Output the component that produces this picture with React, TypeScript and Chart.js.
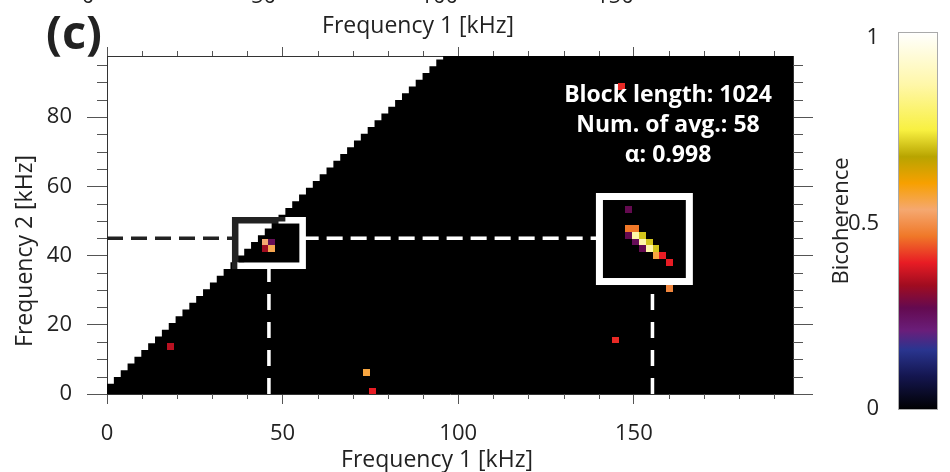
import React, { useEffect, useRef } from "react";
import { Chart, registerables } from "chart.js";

Chart.register(...registerables);

const FONT = "'Open Sans', 'Noto Sans', sans-serif";

// ---- analysis parameters ----
const SAMPLE_RATE_KHZ = 2000;
const BLOCK_LENGTH = 1024;
const NUM_AVG = 58;
const ALPHA = 0.998;
const DF = SAMPLE_RATE_KHZ / BLOCK_LENGTH; // frequency resolution, kHz
const N_F1 = 100;
const N_F2 = 50;
const X_MAX = N_F1 * DF;
const Y_MAX = N_F2 * DF;

// ---- axis ticks ----
const X_MAJOR = [0, 50, 100, 150];
const X_MINOR = [10, 20, 30, 40, 60, 70, 80, 90, 110, 120, 130, 140, 160, 170, 180, 190];
const Y_MAJOR = [0, 20, 40, 60, 80];
const Y_MINOR = [5, 10, 15, 25, 30, 35, 45, 50, 55, 65, 70, 75, 85, 90, 95];
const CB_TICKS = [0, 0.5, 1];
const CB_TICK_LABELS = ["0", "0.5", "1"];

// ---- computed domain of bicoherence (f2 <= f1), one step per frequency bin ----
const F1_BINS = Array.from({ length: N_F1 + 1 }, (_, k) => k * DF);
const DOMAIN = F1_BINS.map((f1) => ({ x: f1, y: Math.min(f1 + DF / 2, Y_MAX) }));

// ---- significant bicoherence cells (centre f1, centre f2, value) ----
const CELL_F1 = [
  148.5, 148.5, 150.45, 148.5, 150.45, 152.4, 150.45, 152.4, 154.35, 152.4, 154.35, 156.3,
  156.3, 158.25, 160.2, 160.2, 146.55, 45.0, 46.95, 45.0, 46.95, 18.2, 73.8, 75.7, 144.8,
];
const CELL_F2 = [
  53.3, 47.85, 47.85, 45.9, 45.9, 45.9, 43.95, 43.95, 43.95, 42.0, 42.0, 42.0,
  40.05, 40.05, 38.1, 30.5, 88.8, 43.95, 43.95, 42.0, 42.0, 13.7, 6.2, 0.9, 15.6,
];
const CELL_B = [
  0.27, 0.46, 0.46, 0.27, 0.86, 0.7, 0.26, 0.86, 0.7, 0.27, 0.86, 0.7,
  0.56, 0.39, 0.39, 0.48, 0.4, 0.53, 0.26, 0.33, 0.55, 0.35, 0.56, 0.39, 0.4,
];

// ---- colour map ----
const CMAP_VALUES = [0, 0.09, 0.16, 0.21, 0.27, 0.33, 0.39, 0.46, 0.53, 0.6, 0.67, 0.74, 0.86, 1];
const CMAP_COLORS = [
  "#000000", "#141650", "#2a3590", "#6a1e7a", "#640a50", "#a00c20", "#e81c24",
  "#f07828", "#f5a870", "#f7a000", "#b8a400", "#f8f040", "#fff7a8", "#ffffff",
];

// ---- annotation guides (kHz) ----
const GUIDE_F2 = 45;
const GUIDE_H_F1 = [
  [0, 36.5],
  [55.7, 140.2],
];
const GUIDE_V_F1 = [46.1, 155.3];
const GUIDE_V_TOP = [37.05, 32.5];
const BOX_F1 = [
  [36.5, 55.7],
  [140.2, 165.8],
];
const BOX_F2 = [
  [37.05, 50.2],
  [32.5, 57.06],
];
const BOX_LW = [6.5, 7];

const INFO_LINES = [
  `Block length: ${BLOCK_LENGTH}`,
  `Num. of avg.: ${NUM_AVG}`,
  `α: ${ALPHA}`,
];

function hexToRgb(h: string) {
  const n = parseInt(h.slice(1), 16);
  return [(n >> 16) & 255, (n >> 8) & 255, n & 255];
}

function colormap(v: number) {
  if (v <= CMAP_VALUES[0]) return CMAP_COLORS[0];
  for (let i = 1; i < CMAP_VALUES.length; i++) {
    if (v <= CMAP_VALUES[i]) {
      const t = (v - CMAP_VALUES[i - 1]) / (CMAP_VALUES[i] - CMAP_VALUES[i - 1]);
      const a = hexToRgb(CMAP_COLORS[i - 1]);
      const b = hexToRgb(CMAP_COLORS[i]);
      const c = a.map((av, j) => Math.round(av + (b[j] - av) * t));
      return `rgb(${c[0]},${c[1]},${c[2]})`;
    }
  }
  return CMAP_COLORS[CMAP_COLORS.length - 1];
}

function domainPath(ctx: CanvasRenderingContext2D, xs: (v: number) => number, ys: (v: number) => number) {
  ctx.beginPath();
  ctx.moveTo(xs(DOMAIN[0].x), ys(0));
  for (let k = 0; k < DOMAIN.length - 1; k++) {
    ctx.lineTo(xs(DOMAIN[k].x), ys(DOMAIN[k].y));
    ctx.lineTo(xs(DOMAIN[k + 1].x), ys(DOMAIN[k].y));
  }
  ctx.lineTo(xs(X_MAX), ys(0));
  ctx.closePath();
}

function drawGuides(ctx: CanvasRenderingContext2D, xs: (v: number) => number, ys: (v: number) => number, color: string) {
  ctx.strokeStyle = color;
  ctx.lineCap = "butt";
  ctx.lineWidth = 3.5;
  ctx.setLineDash([16, 8]);
  GUIDE_H_F1.forEach(([a, b]) => {
    ctx.beginPath();
    ctx.moveTo(xs(a), ys(GUIDE_F2));
    ctx.lineTo(xs(b), ys(GUIDE_F2));
    ctx.stroke();
  });
  ctx.setLineDash([16, 12]);
  GUIDE_V_F1.forEach((f1, i) => {
    ctx.beginPath();
    ctx.moveTo(xs(f1), ys(0));
    ctx.lineTo(xs(f1), ys(GUIDE_V_TOP[i]));
    ctx.stroke();
  });
  ctx.setLineDash([]);
  BOX_F1.forEach(([a, b], i) => {
    const [c, d] = BOX_F2[i];
    ctx.lineWidth = BOX_LW[i];
    ctx.lineJoin = "miter";
    ctx.strokeRect(xs(a), ys(d), xs(b) - xs(a), ys(c) - ys(d));
  });
}

const overlay = {
  id: "overlay",
  afterDatasetsDraw(chart: any) {
    const { ctx, chartArea: ca } = chart;
    const xs = (v: number) => chart.scales.x.getPixelForValue(v);
    const ys = (v: number) => chart.scales.y.getPixelForValue(v);
    ctx.save();
    ctx.beginPath();
    ctx.rect(ca.left, ca.top, ca.right - ca.left, ca.bottom - ca.top);
    ctx.clip();
    CELL_F1.forEach((f1, i) => {
      const f2 = CELL_F2[i];
      const x0 = Math.round(xs(f1 - DF / 2));
      const x1 = Math.round(xs(f1 + DF / 2));
      const y0 = Math.round(ys(f2 + DF / 2));
      const y1 = Math.round(ys(f2 - DF / 2));
      ctx.fillStyle = colormap(CELL_B[i]);
      ctx.fillRect(x0, y0, x1 - x0, y1 - y0);
    });
    drawGuides(ctx, xs, ys, "#222222");
    ctx.save();
    domainPath(ctx, xs, ys);
    ctx.clip();
    drawGuides(ctx, xs, ys, "#ffffff");
    ctx.restore();
    ctx.restore();

    // info text
    ctx.save();
    ctx.fillStyle = "#ffffff";
    ctx.font = `bold 23px ${FONT}`;
    ctx.textAlign = "center";
    ctx.textBaseline = "alphabetic";
    INFO_LINES.forEach((t, i) => ctx.fillText(t, 668, 101.5 + i * 30));
    ctx.restore();
  },
  afterDraw(chart: any) {
    const { ctx, chartArea: ca } = chart;
    const xs = (v: number) => chart.scales.x.getPixelForValue(v);
    const ys = (v: number) => chart.scales.y.getPixelForValue(v);
    ctx.save();
    // minor ticks
    ctx.strokeStyle = "#555";
    ctx.lineWidth = 1;
    const line = (a: number, b: number, c: number, d: number) => {
      ctx.beginPath();
      ctx.moveTo(a, b);
      ctx.lineTo(c, d);
      ctx.stroke();
    };
    X_MINOR.forEach((v) => {
      const px = Math.round(xs(v)) + 0.5;
      line(px, ca.bottom, px, ca.bottom + 5);
      line(px, ca.top, px, ca.top - 5);
    });
    Y_MINOR.forEach((v) => {
      const py = Math.round(ys(v)) + 0.5;
      line(ca.left - 10, py, ca.left, py);
      line(ca.right, py, ca.right + 10, py);
    });

    ctx.fillStyle = "#222";
    ctx.font = `22px ${FONT}`;
    ctx.textAlign = "center";
    ctx.textBaseline = "alphabetic";
    // cropped labels of the upper axis
    X_MAJOR.forEach((v) => ctx.fillText(String(v), xs(v) - 19, 2.5));
    // axis titles
    ctx.font = `23px ${FONT}`;
    ctx.fillText("Frequency 1 [kHz]", 418, 33);
    ctx.fillText("Frequency 1 [kHz]", 437, 467);
    ctx.save();
    ctx.translate(32, 251);
    ctx.rotate(-Math.PI / 2);
    ctx.fillText("Frequency 2 [kHz]", 0, 0);
    ctx.restore();

    // panel label
    ctx.font = `bold 47px ${FONT}`;
    ctx.textAlign = "left";
    ctx.fillText("(c)", 46, 49);

    // colour bar
    const cbL = 898, cbR = 938, cbT = 32, cbB = 410;
    const g = ctx.createLinearGradient(0, cbB, 0, cbT);
    CMAP_VALUES.forEach((v, i) => g.addColorStop(v, CMAP_COLORS[i]));
    ctx.fillStyle = g;
    ctx.fillRect(cbL, cbT, cbR - cbL, cbB - cbT);
    ctx.strokeStyle = "#aaa";
    ctx.strokeRect(cbL + 0.5, cbT + 0.5, cbR - cbL - 1, cbB - cbT - 1);

    ctx.fillStyle = "#222";
    ctx.font = `22px ${FONT}`;
    ctx.textAlign = "right";
    ctx.textBaseline = "middle";
    CB_TICKS.forEach((v, i) => {
      const y = 409 - v * (409 - 38);
      ctx.fillText(CB_TICK_LABELS[i], 879, y);
    });
    ctx.save();
    ctx.translate(848, 221);
    ctx.rotate(-Math.PI / 2);
    ctx.textAlign = "center";
    ctx.textBaseline = "alphabetic";
    ctx.fillText("Bicoherence", 0, 0);
    ctx.restore();

    ctx.restore();
  },
};

export default function App() {
  const ref = useRef<HTMLCanvasElement>(null);
  useEffect(() => {
    const canvas = ref.current;
    if (!canvas) return;
    const setTicks = (vals: number[]) => (s: any) => {
      s.ticks = vals.map((value) => ({ value }));
    };
    const tickFont = { family: FONT, size: 22 };
    const chart = new Chart(canvas, {
      type: "line",
      data: {
        datasets: [
          {
            label: "domain",
            data: DOMAIN,
            xAxisID: "x",
            yAxisID: "y",
            stepped: "after",
            fill: "origin",
            backgroundColor: "#000000",
            borderColor: "#000000",
            borderWidth: 0,
            pointRadius: 0,
          } as any,
        ],
      },
      options: {
        responsive: false,
        animation: false,
        devicePixelRatio: 1,
        layout: { padding: 0 },
        events: [],
        plugins: {
          legend: { display: false },
          tooltip: { enabled: false },
          title: { display: false },
        },
        scales: {
          x: {
            type: "linear",
            position: "bottom",
            min: 0,
            max: X_MAX,
            z: 1,
            afterBuildTicks: setTicks(X_MAJOR),
            afterFit: (s: any) => {
              s.height = 78;
            },
            grid: { drawOnChartArea: false, drawTicks: true, tickLength: 10, tickColor: "#555" },
            border: { display: true, color: "#333", width: 1 },
            ticks: { font: tickFont, color: "#222", padding: 17, maxRotation: 0, autoSkip: false },
          },
          x2: {
            type: "linear",
            position: "top",
            min: 0,
            max: X_MAX,
            z: 1,
            afterBuildTicks: setTicks(X_MAJOR),
            afterFit: (s: any) => {
              s.height = 56;
            },
            grid: { drawOnChartArea: false, drawTicks: true, tickLength: 9, tickColor: "#555" },
            border: { display: true, color: "#333", width: 1 },
            ticks: { display: false },
          },
          y: {
            type: "linear",
            position: "left",
            min: 0,
            max: Y_MAX,
            z: 1,
            afterBuildTicks: setTicks(Y_MAJOR),
            afterFit: (s: any) => {
              s.width = 107;
            },
            grid: { drawOnChartArea: false, drawTicks: true, tickLength: 20, tickColor: "#555" },
            border: { display: true, color: "#333", width: 1 },
            ticks: { font: tickFont, color: "#222", padding: 15, autoSkip: false },
          },
          y2: {
            type: "linear",
            position: "right",
            min: 0,
            max: Y_MAX,
            z: 1,
            afterBuildTicks: setTicks(Y_MAJOR),
            afterFit: (s: any) => {
              s.width = 157;
            },
            grid: { drawOnChartArea: false, drawTicks: true, tickLength: 20, tickColor: "#555" },
            border: { display: true, color: "#333", width: 1 },
            ticks: { display: false },
          },
        },
      },
      plugins: [overlay],
    });
    return () => chart.destroy();
  }, []);
  return (
    <div style={{ position: "absolute", left: 0, top: 0, width: 950, height: 472, background: "#fff" }}>
      <canvas ref={ref} width={950} height={472} style={{ display: "block" }} />
    </div>
  );
}
